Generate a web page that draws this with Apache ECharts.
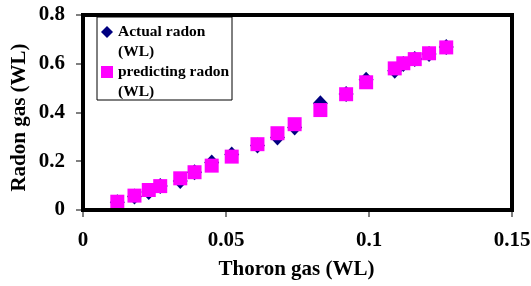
<!DOCTYPE html>
<html>
<head>
<meta charset="utf-8">
<script src="https://cdn.jsdelivr.net/npm/echarts@6/dist/echarts.min.js"></script>
<style>
  html, body { margin: 0; padding: 0; background: #fff; }
  #main { width: 531px; height: 286px; }
</style>
</head>
<body>
<div id="main"></div>
<script>
// thoron gas (WL) on x, radon gas (WL) on y
var thoron = [0.012, 0.018, 0.023, 0.027, 0.034, 0.039, 0.045, 0.052, 0.061, 0.068,
              0.074, 0.083, 0.092, 0.099, 0.109, 0.112, 0.116, 0.121, 0.127];
var actualRadon = [0.032, 0.055, 0.074, 0.098, 0.119, 0.155, 0.195, 0.228, 0.265, 0.297,
                   0.338, 0.438, 0.476, 0.534, 0.571, 0.599, 0.620, 0.640, 0.669];
var predictRadon = [0.034, 0.059, 0.082, 0.098, 0.130, 0.155, 0.182, 0.219, 0.270, 0.315,
                    0.352, 0.410, 0.475, 0.524, 0.581, 0.602, 0.619, 0.643, 0.667];
var xTicks = [0, 0.05, 0.1, 0.15];
var yTicks = [0, 0.2, 0.4, 0.6, 0.8];

function pairs(xs, ys) {
    return xs.map(function (x, i) { return [x, ys[i]]; });
}

var font = 'Liberation Serif';
var myChart = echarts.init(document.getElementById('main'));

var option = {
    animation: false,
    grid: {
        left: 83, right: 19, top: 15, bottom: 76,
        containLabel: false,
        outerBoundsMode: 'none'
    },
    legend: {
        orient: 'vertical',
        left: 101, top: 2,
        padding: 0,
        itemGap: -20,
        itemWidth: 12, itemHeight: 12,
        selectedMode: false,
        formatter: function (name) { return '\n' + name.replace(' (WL)', '\n(WL)'); },
        textStyle: {
            fontFamily: font, fontWeight: 'bold', fontSize: 15.5,
            color: '#000', lineHeight: 20
        },
        data: [
            { name: 'Actual radon (WL)', icon: 'diamond' },
            { name: 'predicting radon (WL)', icon: 'rect' }
        ]
    },
    xAxis: {
        type: 'value',
        min: xTicks[0], max: xTicks[xTicks.length - 1], interval: 0.05,
        axisLine: { show: false },
        axisTick: { show: false },
        axisLabel: { fontFamily: font, fontWeight: 'bold', fontSize: 21, color: '#000', margin: 20 },
        splitLine: { show: false }
    },
    yAxis: {
        type: 'value',
        min: yTicks[0], max: yTicks[yTicks.length - 1], interval: 0.2,
        axisLine: { show: false },
        axisTick: { show: false },
        axisLabel: { fontFamily: font, fontWeight: 'bold', fontSize: 21, color: '#000', margin: 18 },
        splitLine: { show: false }
    },
    series: [{
        name: 'Actual radon (WL)',
        type: 'scatter',
        symbol: 'diamond',
        symbolSize: [15, 16],
        itemStyle: { color: '#000080', opacity: 1 },
        data: pairs(thoron, actualRadon)
    }, {
        name: 'predicting radon (WL)',
        type: 'scatter',
        symbol: 'rect',
        symbolSize: 14,
        itemStyle: { color: '#ff00ff', opacity: 1 },
        data: pairs(thoron, predictRadon)
    }]
};
myChart.setOption(option);

// frame, ticks and axis titles, placed from the chart's own scales
// (frame edges and ticks are drawn as thin filled bars)
var p0 = myChart.convertToPixel({ gridIndex: 0 }, [xTicks[0], yTicks[0]]);
var p1 = myChart.convertToPixel({ gridIndex: 0 }, [xTicks[xTicks.length - 1], yTicks[yTicks.length - 1]]);
var titleFont = 'bold 21px "Liberation Serif"';
var lw = 4;

function bar(x, y, w, h) {
    return { type: 'rect', z: 100, shape: { x: x, y: y, width: w, height: h }, style: { fill: '#000' } };
}

var graphics = [
    bar(p0[0] - lw / 2, p0[1] - lw / 2, p1[0] - p0[0] + lw, lw),   // bottom
    bar(p0[0] - lw / 2, p1[1] - lw / 2, p1[0] - p0[0] + lw, lw),   // top
    bar(p0[0] - lw / 2, p1[1] - lw / 2, lw, p0[1] - p1[1] + lw),   // left
    bar(p1[0] - lw / 2, p1[1] - lw / 2, lw, p0[1] - p1[1] + lw),   // right
    {
        type: 'rect', z: 100,
        shape: { x: 97, y: 17, width: 135, height: 83 },
        style: { fill: 'none', stroke: '#000', lineWidth: 1 }
    }, {
        type: 'text', z: 100,
        x: (p0[0] + p1[0]) / 2 - 1, y: p0[1] + 60,
        style: { text: 'Thoron gas (WL)', font: titleFont, fill: '#000', align: 'center', verticalAlign: 'middle' }
    }, {
        type: 'text', z: 100,
        x: p0[0] - 63, y: (p0[1] + p1[1]) / 2 + 5, rotation: Math.PI / 2,
        style: { text: 'Radon gas (WL)', font: titleFont, fill: '#000', align: 'center', verticalAlign: 'middle' }
    }
];
xTicks.forEach(function (v) {
    var px = myChart.convertToPixel({ gridIndex: 0 }, [v, yTicks[0]])[0];
    graphics.push(bar(Math.round(px) - 0.5, p0[1] + lw / 2, 1, 5));
});
yTicks.forEach(function (v) {
    var py = myChart.convertToPixel({ gridIndex: 0 }, [xTicks[0], v])[1];
    graphics.push(bar(p0[0] - lw / 2 - 5, Math.round(py) - 0.5, 5, 1));
});
myChart.setOption({ graphic: graphics });
</script>
</body>
</html>
